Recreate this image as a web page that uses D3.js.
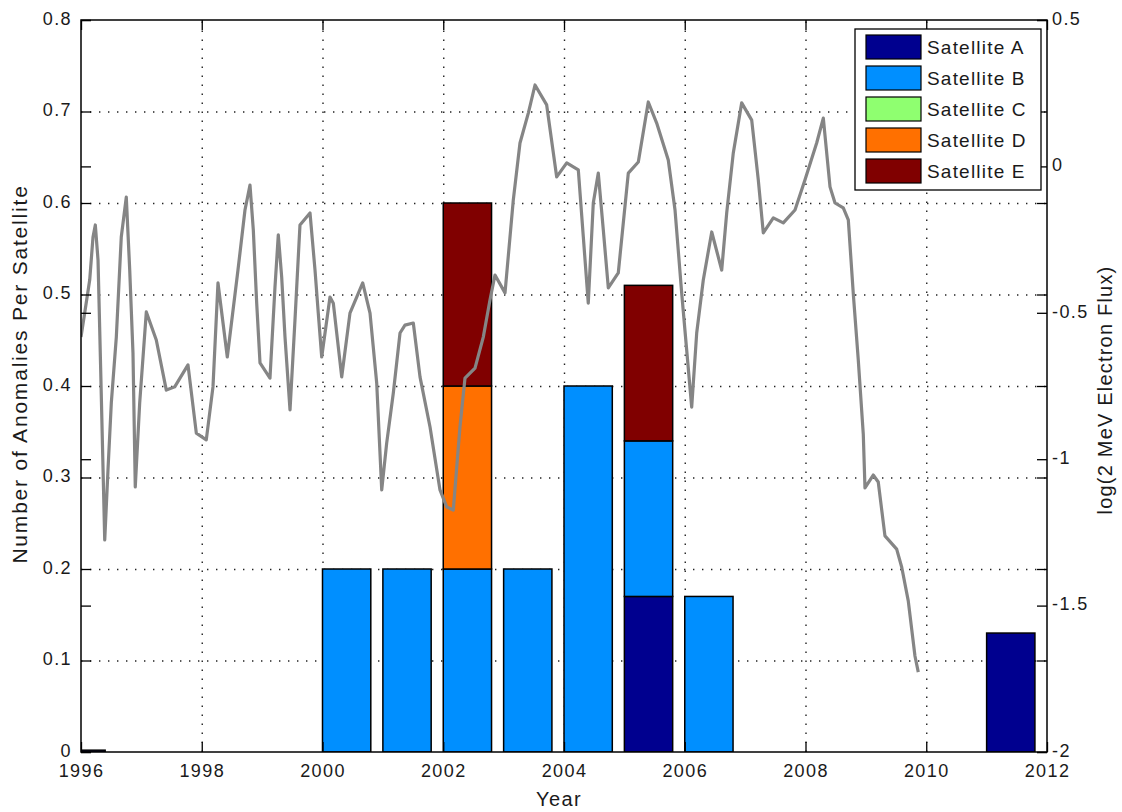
<!DOCTYPE html>
<html>
<head>
<meta charset="utf-8">
<script src="https://cdn.jsdelivr.net/npm/d3@7"></script>
<style>
  body { margin: 0; background: #fff; }
  svg { display: block; }
  text { font-family: "Liberation Sans", Arial, Helvetica, sans-serif; fill: #1a1a1a; }
</style>
</head>
<body>
<svg id="chart" width="1122" height="812"></svg>
<script>
// ---- data ----------------------------------------------------------------
const satellites = ["Satellite A", "Satellite B", "Satellite C", "Satellite D", "Satellite E"];
const satColors  = ["#00008f", "#008fff", "#8fff70", "#ff7000", "#800000"];

// bar centres (decimal year) and anomalies per satellite in each bin
const barCenters = [1996.0, 2000.4, 2001.4, 2002.4, 2003.4, 2004.4, 2005.4, 2006.4, 2011.4];
const satA = [0.002, 0,   0,   0,   0,   0,   0.17, 0,    0.13];
const satB = [0,     0.2, 0.2, 0.2, 0.2, 0.4, 0.17, 0.17, 0];
const satC = [0,     0,   0,   0,   0,   0,   0,    0,    0];
const satD = [0,     0,   0,   0.2, 0,   0,   0,    0,    0];
const satE = [0,     0,   0,   0.2, 0,   0,   0.17, 0,    0];

// log10 of the 2 MeV electron flux
const fluxYear = [
  1996.000, 1996.061, 1996.144, 1996.199, 1996.237, 1996.282, 1996.326, 1996.393, 1996.447, 1996.502,
  1996.585, 1996.667, 1996.750, 1996.807, 1996.861, 1996.899, 1996.972, 1997.082, 1997.247, 1997.413,
  1997.552, 1997.772, 1997.910, 1998.075, 1998.186, 1998.269, 1998.423, 1998.600, 1998.716, 1998.799,
  1998.854, 1998.910, 1998.965, 1999.130, 1999.213, 1999.268, 1999.324, 1999.379, 1999.462, 1999.544,
  1999.627, 1999.793, 1999.876, 1999.930, 1999.987, 2000.124, 2000.179, 2000.318, 2000.455, 2000.666,
  2000.787, 2000.898, 2000.981, 2001.063, 2001.173, 2001.284, 2001.366, 2001.504, 2001.615, 2001.781,
  2001.946, 2002.057, 2002.166, 2002.277, 2002.360, 2002.526, 2002.663, 2002.774, 2002.857, 2003.023,
  2003.160, 2003.271, 2003.409, 2003.520, 2003.713, 2003.879, 2004.045, 2004.237, 2004.320, 2004.402,
  2004.485, 2004.568, 2004.651, 2004.734, 2004.899, 2005.065, 2005.231, 2005.396, 2005.535, 2005.727,
  2005.839, 2005.949, 2006.032, 2006.115, 2006.198, 2006.307, 2006.447, 2006.612, 2006.695, 2006.804,
  2006.943, 2007.109, 2007.218, 2007.301, 2007.467, 2007.632, 2007.826, 2007.992, 2008.185, 2008.295,
  2008.406, 2008.489, 2008.626, 2008.709, 2008.792, 2008.874, 2008.957, 2008.985, 2009.122, 2009.205,
  2009.316, 2009.510, 2009.593, 2009.702, 2009.813, 2009.868
];
const fluxLog = [
  -0.583, -0.501, -0.388, -0.241, -0.200, -0.320, -0.695, -1.276, -1.037, -0.808,
  -0.583, -0.241, -0.105, -0.354, -0.637, -1.095, -0.808, -0.497, -0.593, -0.764,
  -0.753, -0.678, -0.911, -0.934, -0.753, -0.398, -0.651, -0.354, -0.149, -0.064,
  -0.217, -0.467, -0.671, -0.723, -0.412, -0.234, -0.378, -0.583, -0.832, -0.525,
  -0.200, -0.159, -0.354, -0.501, -0.651, -0.446, -0.467, -0.719, -0.501, -0.398,
  -0.501, -0.740, -1.105, -0.945, -0.774, -0.569, -0.542, -0.535, -0.719, -0.890,
  -1.105, -1.163, -1.174, -0.890, -0.723, -0.689, -0.583, -0.456, -0.371, -0.432,
  -0.115,  0.080,  0.182,  0.278,  0.210, -0.036,  0.012, -0.012, -0.241, -0.467,
  -0.125, -0.023, -0.217, -0.415, -0.364, -0.023,  0.015,  0.220,  0.148,  0.022,
  -0.149, -0.432, -0.627, -0.822, -0.569, -0.388, -0.224, -0.354, -0.159,  0.046,
   0.217,  0.158, -0.046, -0.227, -0.176, -0.193, -0.149, -0.046,  0.080,  0.165,
  -0.070, -0.125, -0.142, -0.183, -0.436, -0.661, -0.914, -1.098, -1.054, -1.078,
  -1.262, -1.307, -1.368, -1.484, -1.672, -1.727
];

const yearTicks  = [1996, 1998, 2000, 2002, 2004, 2006, 2008, 2010, 2012];
const countTicks = [0, 0.1, 0.2, 0.3, 0.4, 0.5, 0.6, 0.7, 0.8];
const fluxTicks  = [-2, -1.5, -1, -0.5, 0, 0.5];

// ---- layout ----------------------------------------------------------------
const W = 1122, H = 812;
const plot = { left: 81, right: 1047, top: 20, bottom: 752 };
const TICK = 10;

const svg = d3.select("#chart");
svg.append("rect").attr("width", W).attr("height", H).attr("fill", "#fff");

const x  = d3.scaleLinear().domain([1996, 2012]).range([plot.left, plot.right]);
const yL = d3.scaleLinear().domain([0, 0.8]).range([plot.bottom, plot.top]);
const yR = d3.scaleLinear().domain([-2, 0.5]).range([plot.bottom, plot.top]);

svg.append("defs").append("clipPath").attr("id", "plot-clip")
  .append("rect")
  .attr("x", plot.left).attr("y", plot.top)
  .attr("width", plot.right - plot.left).attr("height", plot.bottom - plot.top);

// dotted grid
const gridStyle = g => {
  g.select(".domain").remove();
  g.selectAll(".tick text").remove();
  g.selectAll(".tick line")
    .attr("stroke", "#222").attr("stroke-width", 1.4)
    .attr("stroke-dasharray", "1.4,7.6");
};
svg.append("g").attr("transform", `translate(0,${plot.bottom})`)
  .call(d3.axisBottom(x).tickValues(yearTicks.slice(1, -1))
        .tickSize(-(plot.bottom - plot.top)).tickFormat(""))
  .call(gridStyle);
svg.append("g").attr("transform", `translate(${plot.left},0)`)
  .call(d3.axisLeft(yL).tickValues(countTicks.slice(1, -1))
        .tickSize(-(plot.right - plot.left)).tickFormat(""))
  .call(gridStyle);

// stacked bars
const keys = ["A", "B", "C", "D", "E"];
const series = [satA, satB, satC, satD, satE];
const table = barCenters.map((c, i) => {
  const row = { center: c };
  keys.forEach((k, j) => { row[k] = series[j][i]; });
  return row;
});
const stacked = d3.stack().keys(keys)(table);
const barWidth = 0.8;

const barLayer = svg.append("g").attr("clip-path", "url(#plot-clip)");
stacked.forEach((layer, j) => {
  barLayer.selectAll(null)
    .data(layer.filter(d => d[1] - d[0] > 0))
    .join("rect")
    .attr("x", d => x(d.data.center - barWidth / 2))
    .attr("width", d => x(d.data.center + barWidth / 2) - x(d.data.center - barWidth / 2))
    .attr("y", d => yL(d[1]))
    .attr("height", d => yL(d[0]) - yL(d[1]))
    .attr("fill", satColors[j])
    .attr("stroke", "#000").attr("stroke-width", 1.5);
});

// electron flux line (right axis)
const fluxData = fluxYear.map((yr, i) => ({ yr, v: fluxLog[i] }));
svg.append("path")
  .datum(fluxData)
  .attr("clip-path", "url(#plot-clip)")
  .attr("fill", "none")
  .attr("stroke", "#858585")
  .attr("stroke-width", 3.2)
  .attr("stroke-linejoin", "round")
  .attr("d", d3.line().x(d => x(d.yr)).y(d => yR(d.v)));

// axes box and inward ticks
const axisStyle = g => {
  g.select(".domain").remove();
  g.selectAll(".tick line").attr("stroke", "#000").attr("stroke-width", 1.3);
  g.selectAll(".tick text")
    .attr("font-size", 18).attr("letter-spacing", "1.4px").attr("fill", "#1a1a1a");
};
const sideLabels = g => g.selectAll(".tick text").attr("dy", "0.24em");
const fmt = d => String(d);

svg.append("g").attr("transform", `translate(0,${plot.bottom})`)
  .call(d3.axisBottom(x).tickValues(yearTicks).tickSize(-TICK).tickPadding(12).tickFormat(fmt))
  .call(axisStyle);
svg.append("g").attr("transform", `translate(0,${plot.top})`)
  .call(d3.axisTop(x).tickValues(yearTicks).tickSize(-TICK).tickFormat(""))
  .call(axisStyle);

svg.append("g").attr("transform", `translate(${plot.left},0)`)
  .call(d3.axisLeft(yL).tickValues(countTicks).tickSize(-TICK).tickPadding(9).tickFormat(fmt))
  .call(axisStyle).call(sideLabels);
svg.append("g").attr("transform", `translate(${plot.left},0)`)
  .call(d3.axisLeft(yR).tickValues(fluxTicks).tickSize(-TICK).tickFormat(""))
  .call(axisStyle);

svg.append("g").attr("transform", `translate(${plot.right},0)`)
  .call(d3.axisRight(yR).tickValues(fluxTicks).tickSize(-TICK).tickPadding(5).tickFormat(fmt))
  .call(axisStyle).call(sideLabels);
svg.append("g").attr("transform", `translate(${plot.right},0)`)
  .call(d3.axisRight(yL).tickValues(countTicks).tickSize(-TICK).tickFormat(""))
  .call(axisStyle);

svg.append("rect")
  .attr("x", plot.left).attr("y", plot.top)
  .attr("width", plot.right - plot.left).attr("height", plot.bottom - plot.top)
  .attr("fill", "none").attr("stroke", "#000").attr("stroke-width", 1.5);

// axis titles
svg.append("text")
  .attr("x", 559).attr("y", 806)
  .attr("text-anchor", "middle").attr("font-size", 20).attr("letter-spacing", "1.4px")
  .text("Year");
svg.append("text")
  .attr("transform", "translate(27,374) rotate(-90)")
  .attr("text-anchor", "middle").attr("font-size", 21).attr("letter-spacing", "1.8px")
  .text("Number of Anomalies Per Satellite");
svg.append("text")
  .attr("transform", "translate(1112,390) rotate(-90)")
  .attr("text-anchor", "middle").attr("font-size", 20).attr("letter-spacing", "1.2px")
  .text("log(2 MeV Electron Flux)");

// legend
const lg = { x: 855, y: 29, w: 186, h: 161, row: 31 };
const legend = svg.append("g");
legend.append("rect")
  .attr("x", lg.x).attr("y", lg.y).attr("width", lg.w).attr("height", lg.h)
  .attr("fill", "#fff").attr("stroke", "#000").attr("stroke-width", 1.3);
const items = legend.selectAll("g.item").data(satellites).join("g")
  .attr("transform", (d, i) => `translate(${lg.x + 11},${lg.y + 6 + i * lg.row})`);
items.append("rect")
  .attr("width", 55).attr("height", 24)
  .attr("fill", (d, i) => satColors[i])
  .attr("stroke", "#000").attr("stroke-width", 1.2);
items.append("text")
  .attr("x", 61).attr("y", 12).attr("dy", "0.36em")
  .attr("font-size", 19).attr("letter-spacing", "1.2px")
  .text(d => d);
</script>
</body>
</html>
